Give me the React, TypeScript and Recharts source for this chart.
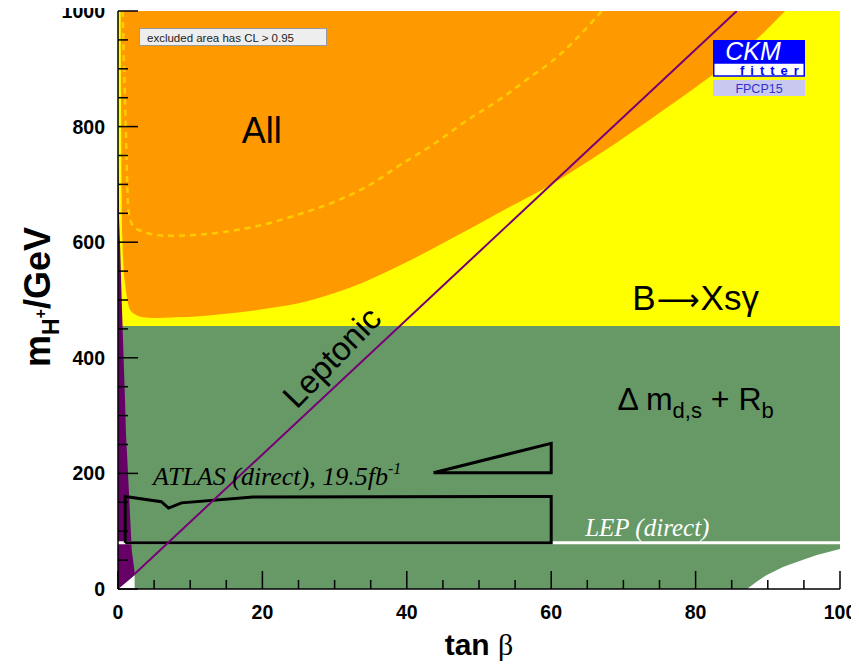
import {
  ComposedChart,
  Area,
  Line,
  XAxis,
  YAxis,
  ReferenceDot,
} from 'recharts';

// axis ticks: minor every 5 / 50, labelled every 20 / 200
const xTicks = [0, 5, 10, 15, 20, 25, 30, 35, 40, 45, 50, 55, 60, 65, 70, 75, 80, 85, 90, 95, 100];
const xLabelled = [0, 20, 40, 60, 80, 100];
const yTicks = [0, 50, 100, 150, 200, 250, 300, 350, 400, 450, 500, 550, 600, 650, 700, 750, 800, 850, 900, 950, 1000];
const yLabelled = [0, 200, 400, 600, 800, 1000];

const TOP = 1000;

// B -> Xs gamma: excluded above this edge
const bsgEdge = [[0, 455], [100, 455]];

// combined fit ("All"): lower edge of the excluded region
const allEdge = [
  [0.37, 1000], [0.42, 850], [0.5, 680], [0.6, 610], [0.75, 560], [0.97, 529],
  [1.3, 500], [1.66, 483], [2.5, 474], [3.5, 470], [5, 469], [8, 470], [11.4, 472],
  [15, 476], [18.3, 481], [22, 488], [25.2, 495], [28.5, 506], [32.1, 521],
  [35.5, 539], [39.1, 560], [46, 605], [52.9, 652], [60, 700], [67, 755],
  [74, 815], [81, 877], [87.5, 940], [92.4, 1000],
];

// dashed contour inside the combined region
const allDashed = [
  [0.65, 1000], [0.8, 920], [0.97, 846], [1.2, 740], [1.43, 655], [1.8, 635],
  [2.3, 626], [3.5, 618], [5, 613], [7, 611], [10, 612], [13, 615], [16, 620],
  [20, 630], [25, 648], [30, 670], [35, 700], [39, 733], [44, 772], [48, 808],
  [53, 848], [57, 885], [60, 912], [63.5, 952], [66.5, 993], [67, 1000],
];

// Delta m_d,s + R_b: lower edge (white hole at large tan beta), top edge fixed
const mixingEdge = [
  [0, 0], [2.3, 24], [2.31, 0], [87.1, 0], [88.5, 13], [89.8, 24], [92.1, 38],
  [94.5, 49], [96.8, 59], [100, 69],
];
const mixingTop = 455;

// leptonic decays: excluded sliver at small tan beta [x, low, high]
const leptonicSliver = [
  [0, 0, 750], [0.15, 1.6, 640], [0.3, 3.1, 590], [0.5, 5.2, 505], [0.74, 7.7, 413],
  [0.97, 10, 327], [1.1, 11.4, 270], [1.57, 16.3, 154], [1.9, 19.7, 67], [2.35, 24.5, 25],
];
const leptonicLine = [[2.3, 26], [85.7, 1000]];

// ATLAS direct search contour and wedge
const atlasBox = [
  [1, 80], [1, 160], [6, 151], [7, 140], [8.8, 149], [18.7, 159], [60, 160],
  [60, 80], [1, 80],
];
const atlasWedge = [[43.7, 201], [60, 252], [60, 201], [43.7, 201]];

// LEP direct limit
const lepLimit = [[0, 80], [100, 80]];

const toRange = (pts: number[][], top: number) => pts.map(([x, lo]) => ({ x, r: [lo, top] }));
const toPoints = (pts: number[][]) => pts.map(([x, y]) => ({ x, y }));

const sans = '"Liberation Sans", Arial, sans-serif';
const serif = '"Liberation Serif", "Times New Roman", serif';

const BottomTick = (props: any) => {
  const { x, y, payload } = props;
  const major = xLabelled.includes(payload.value);
  return (
    <g>
      <line x1={x} x2={x} y1={y} y2={y - (major ? 18 : 9)} stroke="#000" strokeWidth={1.5} />
      {major && (
        <text x={x} y={y + 30} textAnchor="middle" fontFamily={sans} fontWeight="bold" fontSize={19.5}>
          {payload.value}
        </text>
      )}
    </g>
  );
};

const TopTick = (props: any) => {
  const { x, y, payload } = props;
  const major = xLabelled.includes(payload.value);
  return <line x1={x} x2={x} y1={y} y2={y + (major ? 18 : 9)} stroke="#000" strokeWidth={1.5} />;
};

const LeftTick = (props: any) => {
  const { x, y, payload } = props;
  const major = yLabelled.includes(payload.value);
  return (
    <g>
      <line x1={x} x2={x + (major ? 20 : 10)} y1={y} y2={y} stroke="#000" strokeWidth={1.5} />
      {major && (
        <text x={x - 13} y={y + 7} textAnchor="end" fontFamily={sans} fontWeight="bold" fontSize={19.5}>
          {payload.value}
        </text>
      )}
    </g>
  );
};

const RightTick = (props: any) => {
  const { x, y, payload } = props;
  const major = yLabelled.includes(payload.value);
  return <line x1={x} x2={x - (major ? 20 : 10)} y1={y} y2={y} stroke="#000" strokeWidth={1.5} />;
};

export default function App() {
  return (
    <div style={{ position: 'relative', width: 851, height: 662, marginTop: -8 }}>
      <ComposedChart width={851} height={662} margin={{ top: 11, right: 19, bottom: 0, left: 0 }}>
        <Area
          data={toRange(bsgEdge, TOP)}
          dataKey="r"
          type="linear"
          stroke="none"
          fill="#FFFF00"
          fillOpacity={1}
          isAnimationActive={false}
          activeDot={false}
        />
        <Area
          data={toRange(allEdge, TOP)}
          dataKey="r"
          type="monotone"
          stroke="none"
          fill="#FF9900"
          fillOpacity={1}
          isAnimationActive={false}
          activeDot={false}
        />
        <Line
          data={toPoints(allDashed)}
          dataKey="y"
          type="monotone"
          stroke="#FFCC00"
          strokeWidth={2.5}
          strokeDasharray="6 5"
          dot={false}
          activeDot={false}
          isAnimationActive={false}
        />
        <Area
          data={toRange(mixingEdge, mixingTop)}
          dataKey="r"
          type="linear"
          stroke="none"
          fill="#669966"
          fillOpacity={1}
          isAnimationActive={false}
          activeDot={false}
        />
        <Area
          data={leptonicSliver.map(([x, lo, hi]) => ({ x, r: [lo, hi] }))}
          dataKey="r"
          type="linear"
          stroke="none"
          fill="#660066"
          fillOpacity={1}
          isAnimationActive={false}
          activeDot={false}
        />
        <Line
          data={toPoints(lepLimit)}
          dataKey="y"
          type="linear"
          stroke="#FFFFFF"
          strokeWidth={3}
          dot={false}
          activeDot={false}
          isAnimationActive={false}
        />
        <Line
          data={toPoints(atlasBox)}
          dataKey="y"
          type="linear"
          stroke="#000"
          strokeWidth={3}
          dot={false}
          activeDot={false}
          isAnimationActive={false}
        />
        <Line
          data={toPoints(atlasWedge)}
          dataKey="y"
          type="linear"
          stroke="#000"
          strokeWidth={3}
          dot={false}
          activeDot={false}
          isAnimationActive={false}
        />
        <Line
          data={toPoints(leptonicLine)}
          dataKey="y"
          type="linear"
          stroke="#770077"
          strokeWidth={2}
          dot={false}
          activeDot={false}
          isAnimationActive={false}
        />

        <ReferenceDot
          x={19.9}
          y={772}
          r={0}
          shape={(p: any) => (
            <text x={p.cx} y={p.cy} textAnchor="middle" fontFamily={sans} fontSize={36}>
              All
            </text>
          )}
        />
        <ReferenceDot
          x={80}
          y={483}
          r={0}
          shape={(p: any) => (
            <text x={p.cx} y={p.cy} textAnchor="middle" fontFamily={sans} fontSize={35}>
              B
              <tspan fontFamily='"DejaVu Sans", sans-serif' fontSize={30} dx={1}>⟶</tspan>
              <tspan dx={1}>Xsγ</tspan>
            </text>
          )}
        />
        <ReferenceDot
          x={80}
          y={310}
          r={0}
          shape={(p: any) => (
            <text x={p.cx} y={p.cy} textAnchor="middle" fontFamily={sans} fontSize={32}>
              Δ m
              <tspan fontSize={22} dy={8}>d,s</tspan>
              <tspan dy={-8}> + R</tspan>
              <tspan fontSize={22} dy={8}>b</tspan>
            </text>
          )}
        />
        <ReferenceDot
          x={29.6}
          y={401}
          r={0}
          shape={(p: any) => (
            <text
              x={p.cx}
              y={p.cy}
              textAnchor="middle"
              dominantBaseline="central"
              fontFamily={sans}
              fontSize={33}
              transform={`rotate(-46 ${p.cx} ${p.cy})`}
            >
              Leptonic
            </text>
          )}
        />
        <ReferenceDot
          x={4.85}
          y={180}
          r={0}
          shape={(p: any) => (
            <text x={p.cx} y={p.cy} fontFamily={serif} fontStyle="italic" fontSize={26}>
              ATLAS (direct), 19.5fb
              <tspan fontSize={16} dy={-11}>-1</tspan>
            </text>
          )}
        />
        <ReferenceDot
          x={64.7}
          y={92}
          r={0}
          shape={(p: any) => (
            <text x={p.cx} y={p.cy} fill="#FFFFFF" fontFamily={serif} fontStyle="italic" fontSize={25}>
              LEP (direct)
            </text>
          )}
        />

        <XAxis
          dataKey="x"
          type="number"
          domain={[0, 100]}
          allowDataOverflow
          ticks={xTicks}
          interval={0}
          height={73}
          tickSize={0}
          tickMargin={0}
          tickLine={false}
          axisLine={{ stroke: '#000', strokeWidth: 1.5 }}
          tick={<BottomTick />}
        />
        <XAxis
          xAxisId="top"
          orientation="top"
          dataKey="x"
          type="number"
          domain={[0, 100]}
          allowDataOverflow
          ticks={xTicks}
          interval={0}
          height={0}
          tickSize={0}
          tickMargin={0}
          tickLine={false}
          axisLine={{ stroke: '#000', strokeWidth: 1.5 }}
          tick={<TopTick />}
        />
        <YAxis
          type="number"
          domain={[0, 1000]}
          allowDataOverflow
          ticks={yTicks}
          interval={0}
          width={110}
          tickSize={0}
          tickMargin={0}
          tickLine={false}
          axisLine={{ stroke: '#000', strokeWidth: 1.5 }}
          tick={<LeftTick />}
        />
        <YAxis
          yAxisId="right"
          orientation="right"
          type="number"
          domain={[0, 1000]}
          allowDataOverflow
          ticks={yTicks}
          interval={0}
          width={0}
          tickSize={0}
          tickMargin={0}
          tickLine={false}
          axisLine={{ stroke: '#000', strokeWidth: 1.5 }}
          tick={<RightTick />}
        />
      </ComposedChart>

      <svg
        width={851}
        height={662}
        style={{ position: 'absolute', left: 0, top: 0, pointerEvents: 'none' }}
      >
        <text
          x={42}
          y={297}
          textAnchor="middle"
          fontFamily={sans}
          fontWeight="bold"
          fontSize={36}
          transform="rotate(-90 42 297)"
        >
          m
          <tspan fontSize={23} dy={9}>H</tspan>
          <tspan fontSize={16} dy={-13}>+</tspan>
          <tspan dy={4}>/GeV</tspan>
        </text>
        <text x={471} y={655} textAnchor="middle" fontSize={30}>
          <tspan fontFamily={sans} fontWeight="bold">tan </tspan>
          <tspan fontFamily={serif}>β</tspan>
        </text>

        <rect x={131.5} y={28.5} width={187} height={17} fill="#EEEEEE" stroke="#999999" strokeWidth={1} />
        <text x={139} y={41.5} fontFamily={sans} fontSize={11.5} fill="#222">
          excluded area has CL &gt; 0.95
        </text>

        <rect x={705} y={40} width={92} height={23} fill="#0000FF" />
        <text x={745} y={59.5} textAnchor="middle" fontFamily={sans} fontStyle="italic" fontSize={25} fill="#FFFFFF">
          CKM
        </text>
        <rect x={705.75} y={63} width={90.5} height={13} fill="#FFFFFF" stroke="#0000FF" strokeWidth={1.5} />
        <text x={732} y={75} fontFamily={sans} fontWeight="bold" fontSize={13} fill="#0000FF" letterSpacing={6}>
          fitter
        </text>
        <rect x={705} y={80} width={92} height={16} fill="#C8C8F0" />
        <text x={751} y={93} textAnchor="middle" fontFamily={sans} fontSize={12.5} fill="#3333CC">
          FPCP15
        </text>
      </svg>
    </div>
  );
}
